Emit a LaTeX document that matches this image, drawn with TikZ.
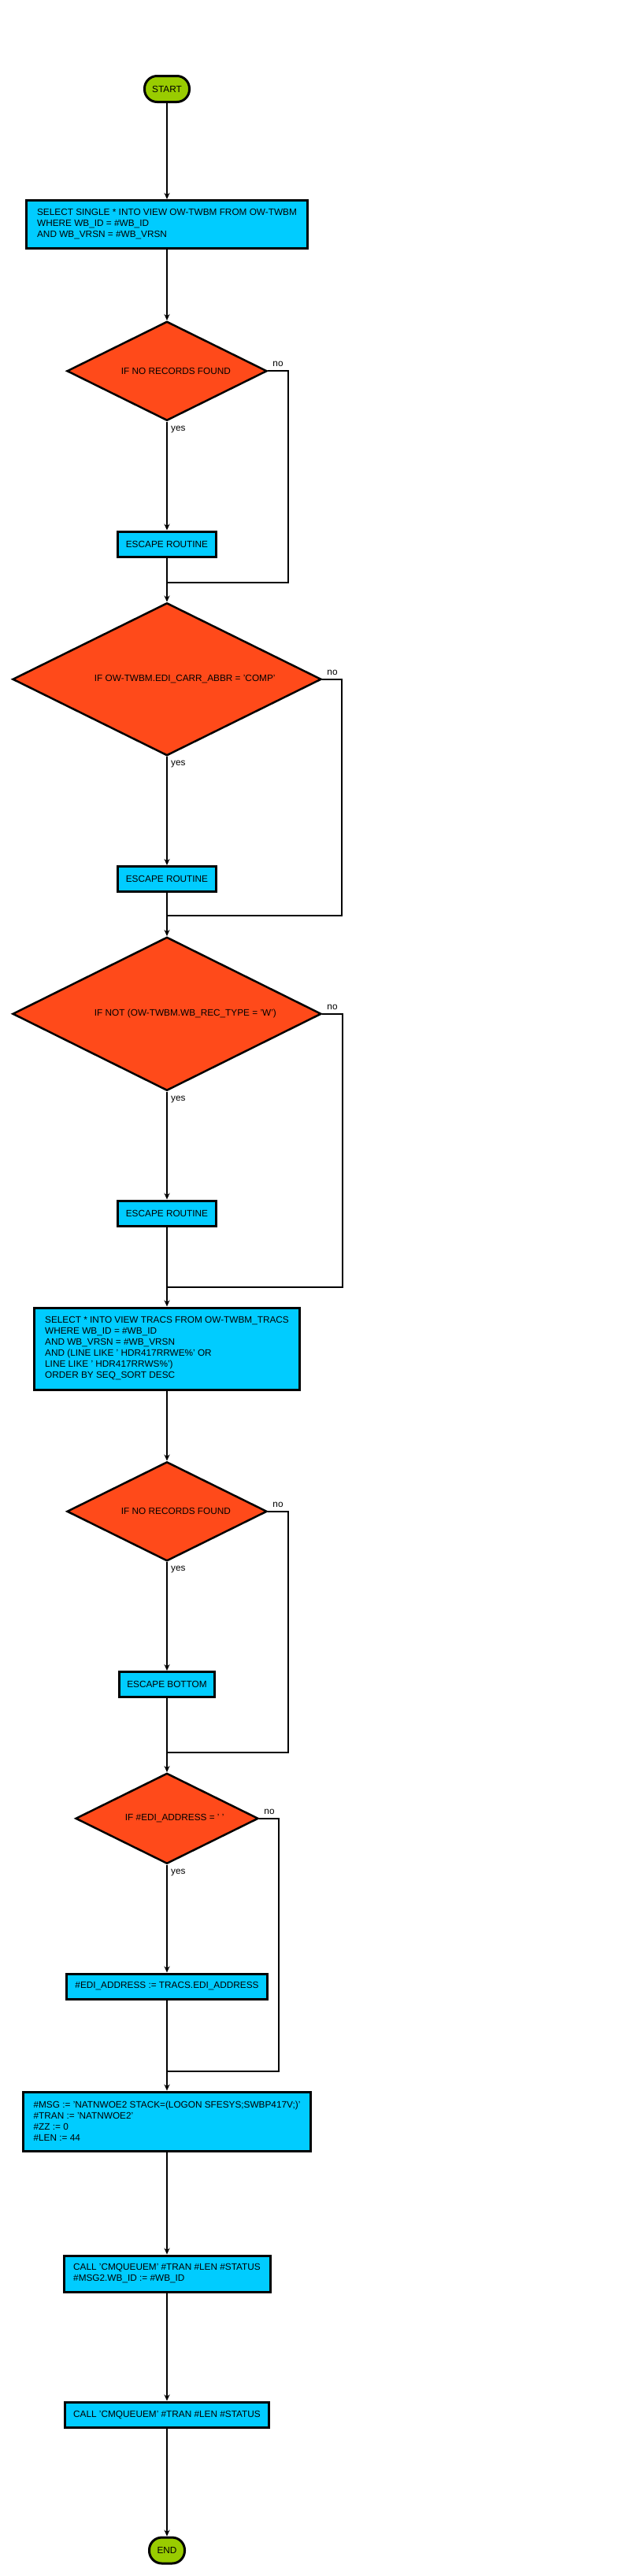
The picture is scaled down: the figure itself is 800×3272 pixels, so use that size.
\documentclass[tikz,border=0pt]{standalone}
\usepackage{fontspec}
\setmainfont{Liberation Sans}
\usepackage{xcolor}
\usepackage{tikz}
\usetikzlibrary{shapes.geometric, arrows.meta, positioning}
\definecolor{termgreen}{RGB}{153,204,0}
\definecolor{procblue}{RGB}{0,204,255}
\definecolor{decisionred}{RGB}{255,74,26}

\begin{document}
\begin{tikzpicture}[
    font=\fontsize{11.8pt}{14pt}\selectfont,
    terminal/.style={rectangle, rounded corners=16pt, draw=black, line width=3pt, fill=termgreen, minimum height=33pt, inner sep=0pt},
    process/.style={rectangle, draw=black, line width=3pt, fill=procblue, align=left, inner sep=0pt},
    decision/.style={diamond, draw=black, line width=2.5pt, fill=decisionred, inner sep=0pt},
    condtext/.style={inner sep=0pt},
    yeslbl/.style={anchor=north west, inner sep=0pt, xshift=5pt, yshift=-5pt},
    nolbl/.style={anchor=south west, inner sep=0pt, xshift=6pt, yshift=5pt},
    arrow/.style={-{Stealth[length=8pt, width=7pt]}, line width=2pt},
    joinline/.style={line width=2pt}
]
\useasboundingbox (0pt,0pt) rectangle (800pt,-3272pt);

\node[terminal, minimum width=57pt] (start) at (212pt,-113pt) {START};
\node[process, minimum width=357pt, minimum height=61pt, below=122pt of start] (selone) {SELECT SINGLE * INTO VIEW OW-TWBM FROM OW-TWBM\\WHERE WB\_ID = \#WB\_ID\\AND WB\_VRSN = \#WB\_VRSN};

% first check
\node[decision, minimum width=254pt, minimum height=126pt, below=90pt of selone] (ifone) {};
\node[condtext, right=70pt of ifone.west] (ifonetxt) {IF NO RECORDS FOUND};
\node[yeslbl] (ifoneyes) at (ifone.south) {yes};
\node[nolbl] (ifoneno) at (ifone.east) {no};
\node[process, minimum width=125pt, minimum height=32pt, below=138pt of ifone] (escone) {ESCAPE ROUTINE};
\coordinate[below=31pt of escone] (mone);

% carrier check
\node[decision, minimum width=392pt, minimum height=194pt, below=25pt of mone] (iftwo) {};
\node[condtext, right=105pt of iftwo.west] (iftwotxt) {IF OW-TWBM.EDI\_CARR\_ABBR = 'COMP'};
\node[yeslbl] (iftwoyes) at (iftwo.south) {yes};
\node[nolbl] (iftwono) at (iftwo.east) {no};
\node[process, minimum width=125pt, minimum height=32pt, below=138pt of iftwo] (esctwo) {ESCAPE ROUTINE};
\coordinate[below=29pt of esctwo] (mtwo);

% record type check
\node[decision, minimum width=392pt, minimum height=195pt, below=26pt of mtwo] (ifthree) {};
\node[condtext, right=105pt of ifthree.west] (ifthreetxt) {IF NOT (OW-TWBM.WB\_REC\_TYPE = 'W')};
\node[yeslbl] (ifthreeyes) at (ifthree.south) {yes};
\node[nolbl] (ifthreeno) at (ifthree.east) {no};
\node[process, minimum width=125pt, minimum height=32pt, below=137pt of ifthree] (escthree) {ESCAPE ROUTINE};
\coordinate[below=76pt of escthree] (mthree);

\node[process, minimum width=337pt, minimum height=104pt, below=25pt of mthree] (seltwo) {SELECT * INTO VIEW TRACS FROM OW-TWBM\_TRACS\\WHERE WB\_ID = \#WB\_ID\\AND WB\_VRSN = \#WB\_VRSN\\AND (LINE LIKE ' HDR417RRWE\%' OR\\LINE LIKE ' HDR417RRWS\%')\\ORDER BY SEQ\_SORT DESC};

% tracs check
\node[decision, minimum width=254pt, minimum height=126pt, below=89pt of seltwo] (iffour) {};
\node[condtext, right=70pt of iffour.west] (iffourtxt) {IF NO RECORDS FOUND};
\node[yeslbl] (iffouryes) at (iffour.south) {yes};
\node[nolbl] (iffourno) at (iffour.east) {no};
\node[process, minimum width=121pt, minimum height=32pt, below=138pt of iffour] (escbottom) {ESCAPE BOTTOM};
\coordinate[below=69pt of escbottom] (mfour);

% address check
\node[decision, minimum width=232pt, minimum height=115pt, below=25pt of mfour] (iffive) {};
\node[condtext, right=64pt of iffive.west] (iffivetxt) {IF \#EDI\_ADDRESS = ' '};
\node[yeslbl] (iffiveyes) at (iffive.south) {yes};
\node[nolbl] (iffiveno) at (iffive.east) {no};
\node[process, minimum width=255pt, minimum height=32pt, below=137pt of iffive] (ediaddr) {\#EDI\_ADDRESS := TRACS.EDI\_ADDRESS};
\coordinate[below=90pt of ediaddr] (mfive);

\node[process, minimum width=365pt, minimum height=75pt, below=25pt of mfive] (msg) {\#MSG := 'NATNWOE2 STACK=(LOGON SFESYS;SWBP417V;)'\\\#TRAN := 'NATNWOE2'\\\#ZZ := 0\\\#LEN := 44};
\node[process, minimum width=262pt, minimum height=46pt, below=130pt of msg] (callone) {CALL 'CMQUEUEM' \#TRAN \#LEN \#STATUS\\\#MSG2.WB\_ID := \#WB\_ID};
\node[process, minimum width=259pt, minimum height=32pt, below=137pt of callone] (calltwo) {CALL 'CMQUEUEM' \#TRAN \#LEN \#STATUS};
\node[terminal, minimum width=45pt, below=137pt of calltwo] (end) {END};

\draw[arrow] (start) -- (selone);
\draw[arrow] (selone) -- (ifone);
\draw[arrow] (ifone) -- (escone);
\draw[joinline] (escone) -- (mone);
\draw[joinline] (ifone.east) -| ([xshift=154pt]mone) -- (mone);
\draw[arrow] (mone) -- (iftwo);
\draw[arrow] (iftwo) -- (esctwo);
\draw[joinline] (esctwo) -- (mtwo);
\draw[joinline] (iftwo.east) -| ([xshift=222pt]mtwo) -- (mtwo);
\draw[arrow] (mtwo) -- (ifthree);
\draw[arrow] (ifthree) -- (escthree);
\draw[joinline] (escthree) -- (mthree);
\draw[joinline] (ifthree.east) -| ([xshift=223pt]mthree) -- (mthree);
\draw[arrow] (mthree) -- (seltwo);
\draw[arrow] (seltwo) -- (iffour);
\draw[arrow] (iffour) -- (escbottom);
\draw[joinline] (escbottom) -- (mfour);
\draw[joinline] (iffour.east) -| ([xshift=154pt]mfour) -- (mfour);
\draw[arrow] (mfour) -- (iffive);
\draw[arrow] (iffive) -- (ediaddr);
\draw[joinline] (ediaddr) -- (mfive);
\draw[joinline] (iffive.east) -| ([xshift=142pt]mfive) -- (mfive);
\draw[arrow] (mfive) -- (msg);
\draw[arrow] (msg) -- (callone);
\draw[arrow] (callone) -- (calltwo);
\draw[arrow] (calltwo) -- (end);

\end{tikzpicture}
\end{document}
